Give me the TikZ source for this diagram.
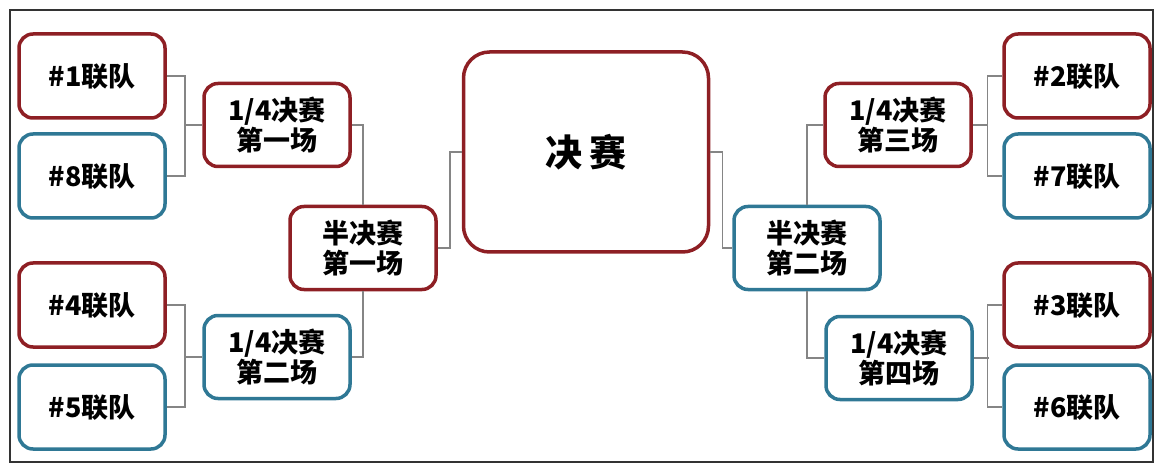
\documentclass[tikz,border=0pt]{standalone}
\usepackage{fontspec}
\newfontfamily\cjk{Noto Sans CJK SC}
\definecolor{winred}{HTML}{8E1F24}
\definecolor{loseblue}{HTML}{2F7895}
\definecolor{linkgray}{HTML}{858585}
\tikzset{
  box/.style={draw, line width=3.5pt, rounded corners=14pt, fill=white, align=center,
    font=\cjk\bfseries\fontsize{27}{30}\selectfont, text=black, inner sep=0pt},
  team/.style={box, minimum width=146pt, minimum height=84pt},
  game/.style={box, minimum width=146pt, minimum height=83pt},
  win/.style={draw=winred},
  lose/.style={draw=loseblue},
  link/.style={draw=linkgray, line width=1.5pt},
}
\begin{document}
\begin{tikzpicture}[x=1pt,y=-1pt]
\useasboundingbox (0,0) rectangle (1157,465);
\draw[line width=2.5pt, black!80] (10,10) rectangle (1153,462);

\node[team,win] (t1) at (92,76) {\#1联队};
\node[team,lose] (t8) at (92,176) {\#8联队};
\node[team,win] (t4) at (92,305) {\#4联队};
\node[team,lose] (t5) at (92,407) {\#5联队};
\node[team,win] (t2) at (1077,76) {\#2联队};
\node[team,lose] (t7) at (1077,176) {\#7联队};
\node[team,win] (t3) at (1077,305) {\#3联队};
\node[team,lose] (t6) at (1077,407) {\#6联队};

\node[game,win] (q1) at (277,125) {1/4决赛\\第一场};
\node[game,lose] (q2) at (277,357) {1/4决赛\\第二场};
\node[game,win] (q3) at (898,125) {1/4决赛\\第三场};
\node[game,lose] (q4) at (899,358) {1/4决赛\\第四场};

\node[game,win] (s1) at (363,248) {半决赛\\第一场};
\node[game,lose] (s2) at (807,248) {半决赛\\第二场};

\node[box,win,minimum width=245pt,minimum height=200pt,rounded corners=26pt,
  font=\cjk\bfseries\fontsize{37}{40}\selectfont] (fin) at (586,152) {决\,赛};

\draw[link] (t1.east) -- ++(18,0) |- (t8.east);
\draw[link] (t4.east) -- ++(18,0) |- (t5.east);
\draw[link] (q1.west) -- ++(-17,0);
\draw[link] (q2.west) -- ++(-17,0);
\draw[link] (t2.west) -- ++(-15,0) |- (t7.west);
\draw[link] (t3.west) -- ++(-15,0) |- (t6.west);
\draw[link] (q3.east) -- ++(15,0);
\draw[link] (q4.east) -- ++(15,0);

\draw[link] (q1.east) -| (s1.north);
\draw[link] (q2.east) -| (s1.south);
\draw[link] (q3.west) -| (s2.north);
\draw[link] (q4.west) -| (s2.south);

\draw[link] (fin.west) -- ++(-12,0) |- (s1.east);
\draw[link] (fin.east) -- ++(12,0) |- (s2.west);
\end{tikzpicture}
\end{document}
